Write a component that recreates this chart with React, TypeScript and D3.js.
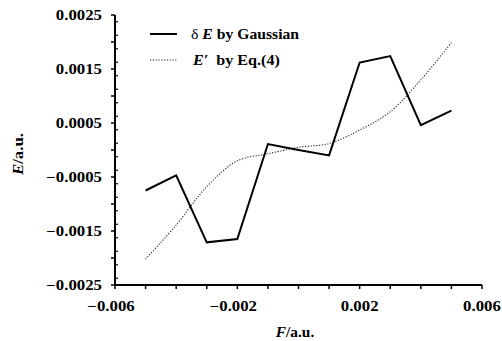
import * as d3 from "d3"

// field values (a.u.)
const fValues = [-0.005, -0.004, -0.003, -0.002, -0.001, 0, 0.001, 0.002, 0.003, 0.004, 0.005]
// delta E by Gaussian
const gaussianE = [-0.00075, -0.00047, -0.00171, -0.00165, 0.00011, 0.0, -0.0001, 0.00162, 0.00174, 0.00046, 0.00073]
// E' by Eq.(4)
const eqE = [-0.00202, -0.00139, -0.00068, -0.0002, -0.00007, 0.00005, 0.00012, 0.00037, 0.00071, 0.0013, 0.00199]

const xTickLabels = [-0.006, -0.002, 0.002, 0.006]
const yTickLabels = [0.0025, 0.0015, 0.0005, -0.0005, -0.0015, -0.0025]

const W = 502
const H = 341
const font = "'Liberation Serif', 'Times New Roman', serif"

const fmtLabel = (v: number) => (v < 0 ? "\u2212" : "") + Math.abs(v).toString()

function T(props: {
  x: number
  y: number
  sx?: number
  rotate?: number
  anchor?: string
  dy?: string
  children: any
}) {
  const { x, y, sx = 1.2, rotate = 0, anchor = "start", dy, children } = props
  return (
    <g transform={`translate(${x},${y}) rotate(${rotate}) scale(${sx},1)`}>
      <text textAnchor={anchor} dy={dy} fontFamily={font} fontWeight="bold" fontSize={14} fill="#000">
        {children}
      </text>
    </g>
  )
}

export default function App() {
  const x = d3.scaleLinear().domain([-0.006, 0.006]).range([115, 482])
  const y = d3.scaleLinear().domain([-0.0025, 0.0025]).range([285, 15])

  const xTicks = d3.range(-6, 7).map((d) => d / 1000)
  const yMajor = d3.range(-5, 6).map((d) => d / 2000)
  const yMinor = d3.range(-10, 10).map((d) => (d + 0.5) / 4000)

  const line = d3
    .line<number>()
    .x((_, i) => x(fValues[i]))
    .y((d) => y(d))

  const smooth = d3
    .line<number>()
    .x((_, i) => x(fValues[i]))
    .y((d) => y(d))
    .curve(d3.curveCatmullRom.alpha(0.5))

  return (
    <svg width={W} height={H} style={{ position: "absolute", left: 0, top: 0 }}>
      <rect width={W} height={H} fill="#fff" />

      {/* axes */}
      <line x1={x(-0.006)} x2={x(-0.006)} y1={y(0.0025)} y2={y(-0.0025)} stroke="#000" strokeWidth={2} />
      <line x1={x(-0.006) - 1} x2={x(0.006)} y1={y(-0.0025)} y2={y(-0.0025)} stroke="#000" strokeWidth={2} />

      {xTicks.map((t) => (
        <line key={"xt" + t} x1={x(t)} x2={x(t)} y1={y(-0.0025)} y2={y(-0.0025) + 4} stroke="#000" strokeWidth={1.5} />
      ))}
      {yMajor.map((t) => (
        <line
          key={"ym" + t}
          x1={x(-0.006)}
          x2={x(-0.006) - (Math.abs(Math.round(t * 20000)) % 2 === 1 ? 6 : 4)}
          y1={y(t)}
          y2={y(t)}
          stroke="#000"
          strokeWidth={1.5}
        />
      ))}
      {yMinor.map((t) => (
        <line key={"yn" + t} x1={x(-0.006)} x2={x(-0.006) + 3} y1={y(t)} y2={y(t)} stroke="#000" strokeWidth={1.2} />
      ))}

      {xTickLabels.map((t) => (
        <T key={"xl" + t} x={x(t) + (t < 0 ? -4 : 0)} y={311} anchor="middle">
          {fmtLabel(t)}
        </T>
      ))}
      {yTickLabels.map((t) => (
        <T key={"yl" + t} x={102} y={y(t)} anchor="end" dy="0.35em">
          {fmtLabel(t)}
        </T>
      ))}

      {/* axis titles */}
      <T x={23} y={154} rotate={-90} anchor="middle">
        <tspan fontStyle="italic">E</tspan>/a.u.
      </T>
      <T x={295} y={337} anchor="middle" sx={1.1}>
        <tspan fontStyle="italic">F</tspan>/a.u.
      </T>

      {/* series */}
      <path d={smooth(eqE) || ""} fill="none" stroke="#222" strokeWidth={1.1} strokeDasharray="1.2,1.6" />
      <path d={line(gaussianE) || ""} fill="none" stroke="#000" strokeWidth={2} strokeLinejoin="miter" />

      {/* legend */}
      <line x1={150} x2={177} y1={34} y2={34} stroke="#000" strokeWidth={2} />
      <T x={191} y={39} sx={1.12}>
        <tspan fontWeight="normal">δ</tspan> <tspan fontStyle="italic">E</tspan> by Gaussian
      </T>
      <line x1={150} x2={177} y1={60} y2={60} stroke="#222" strokeWidth={1.1} strokeDasharray="1.2,1.6" />
      <T x={193} y={65} sx={1.15}>
        <tspan fontStyle="italic">E′</tspan>
        {"\u00a0\u00a0by Eq.(4)"}
      </T>
    </svg>
  )
}
